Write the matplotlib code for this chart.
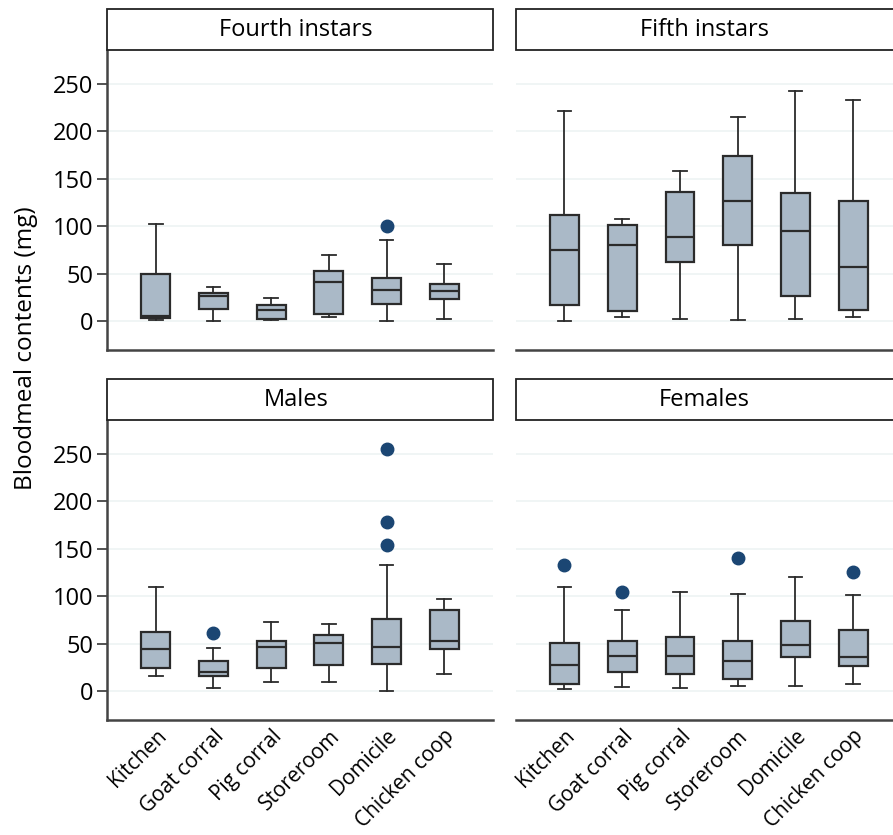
import matplotlib
matplotlib.use('Agg')
import matplotlib.pyplot as plt
from matplotlib.patches import Rectangle

plt.rcParams['font.family'] = ['Open Sans', 'DejaVu Sans']

sites = ['Kitchen', 'Goat corral', 'Pig corral', 'Storeroom', 'Domicile', 'Chicken coop']
panels = ['Fourth instars', 'Fifth instars', 'Males', 'Females']

# per panel: lower whisker, q1, median, q3, upper whisker (mg)
fourth_lo = [1, 0.4, 1, 3.9, 0, 1.8]
fourth_q1 = [3, 12.3, 2.5, 7.4, 17.9, 23.2]
fourth_med = [5.3, 26.7, 11.6, 41.4, 33, 31.6]
fourth_q3 = [50, 29.8, 16.9, 52.3, 45.3, 38.6]
fourth_hi = [102, 35.5, 23.9, 69.2, 85.3, 59.7]
fourth_out = [[], [], [], [], [100], []]

fifth_lo = [0.4, 4.2, 2.5, 0.7, 2.1, 4.2]
fifth_q1 = [17.2, 10.2, 61.8, 80.4, 26.3, 11.2]
fifth_med = [74.8, 80, 88, 126.8, 94.5, 56.9]
fifth_q3 = [112, 100.8, 135.5, 174.2, 134.5, 126]
fifth_hi = [221.6, 107.4, 158, 214.5, 242.6, 232.8]
fifth_out = [[], [], [], [], [], []]

males_lo = [16.5, 3.5, 9.8, 10.2, 0, 17.9]
males_q1 = [24.2, 16.1, 24.9, 27.7, 28.8, 44.2]
males_med = [44.2, 20.7, 47, 50.8, 46.3, 53.3]
males_q3 = [62.8, 31.9, 53.6, 59.6, 76.4, 85.9]
males_hi = [109.4, 46, 73.3, 70.8, 132.5, 97.1]
males_out = [[], [62], [], [], [255.3, 177.8, 154], []]

females_lo = [2.1, 4.6, 3.2, 5.6, 5.6, 8.1]
females_q1 = [8.1, 20.7, 17.9, 13, 35.8, 27]
females_med = [27.7, 37.2, 36.8, 31.6, 49.1, 35.8]
females_q3 = [51.5, 53.3, 57.5, 52.6, 74, 64.9]
females_hi = [109.4, 85.9, 104.5, 102.4, 120.6, 101.7]
females_out = [[132.9], [104.8], [], [140.6], [], [125.9]]

yticks = [0, 50, 100, 150, 200, 250]

data = [
    (fourth_lo, fourth_q1, fourth_med, fourth_q3, fourth_hi, fourth_out),
    (fifth_lo, fifth_q1, fifth_med, fifth_q3, fifth_hi, fifth_out),
    (males_lo, males_q1, males_med, males_q3, males_hi, males_out),
    (females_lo, females_q1, females_med, females_q3, females_hi, females_out),
]

W, H = 893, 835
fig = plt.figure(figsize=(W / 100, H / 100), dpi=100)

# axes rectangles in pixels: left, top, right, bottom
rects = [(107, 50, 493, 349.5), (515.7, 50, 902, 349.5),
         (107, 420, 493, 720), (515.7, 420, 902, 720)]
box_h = 41  # title strip height in px

edge = '#2b2b2b'
fill = '#aab9c7'
dot = '#1b4673'

for i, (l, t, r, b) in enumerate(rects):
    ax = fig.add_axes([l / W, 1 - b / H, (r - l) / W, (b - t) / H])
    lo, q1, med, q3, hi, out = data[i]
    stats = []
    for k in range(len(sites)):
        stats.append(dict(whislo=lo[k], q1=q1[k], med=med[k], q3=q3[k],
                          whishi=hi[k], fliers=out[k]))
    ax.bxp(stats, positions=range(1, 7), widths=0.5, patch_artist=True,
           showfliers=True,
           boxprops=dict(facecolor=fill, edgecolor=edge, linewidth=1.6),
           medianprops=dict(color=edge, linewidth=1.6),
           whiskerprops=dict(color=edge, linewidth=1.3),
           capprops=dict(color=edge, linewidth=1.3),
           capwidths=0.24,
           flierprops=dict(marker='o', markerfacecolor=dot, markeredgecolor=dot,
                           markersize=9))
    ax.set_xlim(0.155, 6.845)
    ax.set_ylim(-30, 285.5)
    ax.set_yticks(yticks)
    for y in yticks:
        ax.axhline(y, color='#edf3f3', linewidth=1.2, zorder=0)
    for s in ['top', 'right']:
        ax.spines[s].set_visible(False)
    ax.spines['bottom'].set_color('#444444')
    ax.spines['bottom'].set_linewidth(1.8)
    if i % 2 == 0:
        ax.spines['left'].set_color('#444444')
        ax.spines['left'].set_linewidth(1.8)
        ax.tick_params(axis='y', length=7, width=1.3, color='#444444',
                       labelsize=17, pad=3)
    else:
        ax.spines['left'].set_visible(False)
        ax.tick_params(axis='y', left=False, labelleft=False)
    if i >= 2:
        ax.set_xticks(range(1, 7))
        ax.set_xticklabels(sites, rotation=45, ha='right', va='top',
                           rotation_mode='anchor', fontsize=15)
        ax.tick_params(axis='x', length=0, pad=4)
    else:
        ax.tick_params(axis='x', bottom=False, labelbottom=False)

    # strip title
    fig.patches.append(Rectangle((l / W, 1 - t / H), (r - l) / W, box_h / H,
                                 transform=fig.transFigure, facecolor='white',
                                 edgecolor='#222222', linewidth=1.3))
    cx = l + 189
    fig.text(cx / W, 1 - (t - box_h / 2) / H, panels[i], ha='center',
             va='center', fontsize=17)

fig.text(26 / W, 1 - 348 / H, 'Bloodmeal contents (mg)', rotation=90,
         ha='center', va='center', fontsize=17.5)

fig.savefig('out.png', dpi=100)
